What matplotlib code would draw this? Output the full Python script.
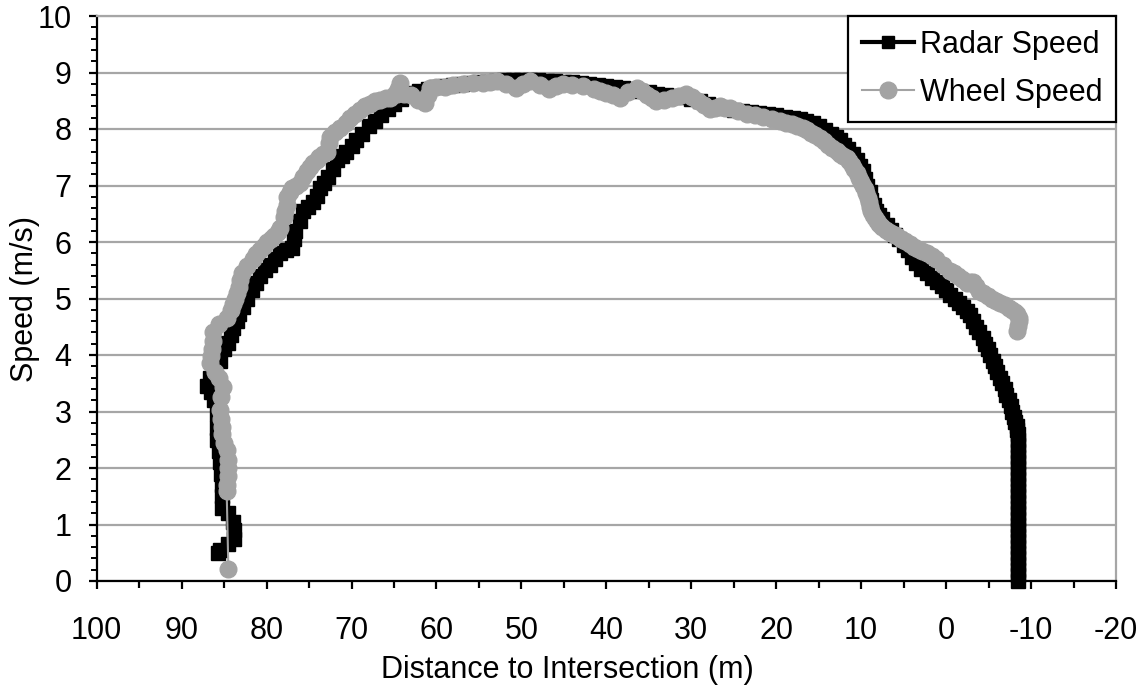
import matplotlib
matplotlib.use("Agg")
import matplotlib.pyplot as plt
from matplotlib.ticker import MultipleLocator
from matplotlib.lines import Line2D

# ---------------- data ----------------
radar_dist = [
    85.7, 85.5, 84.5, 83.8, 83.8, 84.0, 84.6, 85.2, 85.2, 85.3,
    85.4, 85.5, 85.6, 85.8, 85.8, 85.8, 86.2, 86.6, 87.0, 86.7,
    86.2, 85.5, 85.0, 84.6, 84.2, 83.9, 83.5, 83.2, 82.8, 82.3,
    81.7, 81.3, 80.8, 80.2, 79.6, 79.0, 78.4, 77.7, 77.0, 76.8,
    76.6, 76.1, 75.7, 75.1, 74.5, 74.1, 73.7, 73.2, 72.8, 72.2,
    71.7, 71.1, 70.6, 70.0, 69.5, 68.8, 68.0, 67.2, 66.5, 65.7,
    65.0, 64.2, 63.5, 62.7, 62.0, 61.0, 60.0, 59.0, 58.0, 57.0,
    56.0, 55.0, 54.0, 53.0, 52.0, 51.0, 50.0, 49.0, 48.0, 47.0,
    46.0, 45.0, 44.0, 43.0, 42.0, 41.0, 40.0, 39.0, 38.0, 37.0,
    36.0, 35.0, 34.0, 33.0, 32.0, 31.0, 30.0, 29.0, 28.0, 27.0,
    26.0, 25.0, 24.0, 23.0, 22.0, 21.0, 20.0, 19.0, 18.0, 17.2,
    16.5, 15.7, 15.0, 14.2, 13.5, 13.0, 12.5, 12.0, 11.5, 11.0,
    10.5, 10.1, 9.8, 9.5, 9.3, 9.0, 8.8, 8.5, 8.2, 7.9,
    7.5, 7.0, 6.5, 6.0, 5.5, 5.0, 4.5, 4.0, 3.5, 2.9,
    2.3, 1.7, 1.1, 0.5, 0.0, -0.5, -1.0, -1.5, -2.0, -2.4,
    -2.8, -3.2, -3.5, -3.9, -4.3, -4.6, -4.9, -5.2, -5.5, -5.8,
    -6.0, -6.3, -6.6, -6.9, -7.1, -7.4, -7.6, -7.8, -8.0, -8.15,
    -8.3, -8.4, -8.5,
    -8.5, -8.5, -8.5, -8.5, -8.5, -8.5, -8.5, -8.5, -8.5, -8.5,
    -8.5, -8.5, -8.5, -8.5, -8.5, -8.5, -8.5, -8.5, -8.5, -8.5,
    -8.5, -8.5, -8.5, -8.5, -8.5, -8.5,
]
radar_speed = [
    0.5, 0.55, 0.65, 0.75, 0.9, 1.05, 1.2, 1.3, 1.5, 1.7,
    1.9, 2.1, 2.3, 2.5, 2.7, 2.95, 3.2, 3.35, 3.45, 3.6,
    3.75, 3.9, 4.1, 4.22, 4.35, 4.48, 4.6, 4.72, 4.85, 5.0,
    5.15, 5.28, 5.4, 5.5, 5.6, 5.7, 5.8, 5.85, 5.9, 6.05,
    6.2, 6.38, 6.55, 6.62, 6.7, 6.82, 6.95, 7.05, 7.15, 7.3,
    7.45, 7.52, 7.6, 7.7, 7.8, 7.92, 8.05, 8.15, 8.25, 8.35,
    8.45, 8.53, 8.6, 8.64, 8.68, 8.71, 8.74, 8.76, 8.78, 8.8,
    8.82, 8.83, 8.84, 8.85, 8.86, 8.87, 8.87, 8.87, 8.86, 8.85,
    8.85, 8.84, 8.83, 8.82, 8.8, 8.78, 8.76, 8.74, 8.72, 8.7,
    8.67, 8.65, 8.62, 8.6, 8.58, 8.56, 8.53, 8.49, 8.45, 8.41,
    8.37, 8.34, 8.32, 8.3, 8.28, 8.26, 8.24, 8.22, 8.2, 8.17,
    8.14, 8.1, 8.05, 7.98, 7.92, 7.86, 7.8, 7.72, 7.65, 7.55,
    7.45, 7.35, 7.25, 7.12, 7.0, 6.88, 6.75, 6.65, 6.55, 6.47,
    6.4, 6.3, 6.22, 6.13, 6.05, 5.95, 5.85, 5.73, 5.62, 5.53,
    5.45, 5.37, 5.3, 5.22, 5.15, 5.07, 5.0, 4.92, 4.85, 4.78,
    4.7, 4.6, 4.5, 4.4, 4.3, 4.2, 4.1, 4.0, 3.9, 3.8,
    3.7, 3.6, 3.5, 3.4, 3.3, 3.2, 3.1, 3.0, 2.9, 2.82,
    2.75, 2.68, 2.6,
    2.5, 2.4, 2.3, 2.2, 2.1, 2.0, 1.9, 1.8, 1.7, 1.6,
    1.5, 1.4, 1.3, 1.2, 1.1, 1.0, 0.9, 0.8, 0.7, 0.6,
    0.5, 0.4, 0.3, 0.2, 0.1, 0.0,
]

wheel_dist = [
    84.5, 84.7, 84.7, 84.6, 84.5, 84.6, 84.7, 85.0, 85.3, 85.3,
    85.4, 85.5, 85.4, 85.1, 85.6, 86.1, 86.7, 86.6, 86.4, 86.3,
    86.3, 85.6, 84.7, 84.2, 83.9, 83.7, 83.5, 83.3, 83.1, 82.9,
    82.3, 81.6, 81.2, 80.8, 80.3, 79.9, 79.5, 79.1, 78.7, 78.4,
    78.0, 77.8, 77.6, 77.6, 77.3, 77.0, 76.5, 76.1, 75.7, 75.3,
    74.9, 74.5, 74.1, 73.8, 73.3, 72.9, 72.7, 72.5, 71.9, 71.3,
    70.7, 70.2, 69.6, 69.0, 68.4, 67.8, 67.2, 66.6, 66.0, 65.5,
    64.9, 64.3, 64.5, 64.7, 63.8, 63.0, 62.2, 61.4, 61.0, 60.8,
    60.0, 59.0, 58.0, 56.9, 55.7, 54.5, 53.7, 52.9, 51.8, 50.6,
    49.8, 49.0, 47.8, 46.7, 45.9, 45.1, 44.0, 42.8, 41.5, 40.8,
    40.0, 39.2, 38.4, 37.4, 36.4, 35.8, 35.2, 34.6, 34.1, 33.2,
    32.3, 31.5, 30.6, 29.9, 29.2, 28.5, 27.8, 27.2, 26.6, 26.0,
    25.5, 24.5, 23.5, 22.5, 21.5, 20.5, 19.6, 18.9, 18.2, 17.5,
    16.9, 16.4, 15.9, 15.4, 14.9, 14.4, 13.9, 13.4, 12.9, 12.5,
    12.1, 11.7, 11.4, 11.1, 10.8, 10.5, 10.2, 10.0, 9.8, 9.6,
    9.4, 9.25, 9.1, 8.95, 8.8, 8.6, 8.4, 8.15, 7.9, 7.5,
    7.1, 6.7, 6.3, 5.8, 5.3, 4.8, 4.3, 3.8, 3.3, 2.8,
    2.3, 1.7, 1.2, 0.4, -0.4, -0.9, -1.4, -1.9, -2.4, -2.8,
    -3.2, -3.5, -3.9, -4.4, -4.9, -5.4, -5.9, -6.4, -6.9, -7.4,
    -7.8, -8.1, -8.4, -8.6, -8.6, -8.5, -8.4,
]
wheel_speed = [
    0.22, 1.6, 1.7, 1.85, 2.0, 2.15, 2.31, 2.45, 2.6, 2.72,
    2.87, 3.02, 3.25, 3.43, 3.6, 3.7, 3.85, 3.98, 4.1, 4.25,
    4.4, 4.55, 4.65, 4.8, 4.9, 5.0, 5.1, 5.2, 5.33, 5.45,
    5.58, 5.7, 5.78, 5.85, 5.93, 6.0, 6.05, 6.1, 6.18, 6.25,
    6.45, 6.55, 6.65, 6.8, 6.88, 6.95, 7.0, 7.05, 7.15, 7.25,
    7.33, 7.4, 7.45, 7.5, 7.55, 7.6, 7.75, 7.85, 7.95, 8.02,
    8.1, 8.2, 8.27, 8.33, 8.4, 8.45, 8.49, 8.52, 8.54, 8.55,
    8.62, 8.82, 8.7, 8.62, 8.62, 8.6, 8.52, 8.46, 8.6, 8.73,
    8.74, 8.75, 8.78, 8.8, 8.81, 8.82, 8.84, 8.85, 8.8, 8.73,
    8.8, 8.85, 8.78, 8.71, 8.76, 8.8, 8.78, 8.76, 8.7, 8.67,
    8.64, 8.6, 8.55, 8.65, 8.73, 8.67, 8.6, 8.55, 8.5, 8.52,
    8.55, 8.58, 8.62, 8.56, 8.5, 8.43, 8.36, 8.38, 8.4, 8.38,
    8.37, 8.32, 8.27, 8.25, 8.22, 8.18, 8.14, 8.11, 8.08, 8.05,
    8.02, 7.98, 7.93, 7.89, 7.84, 7.78, 7.72, 7.66, 7.61, 7.56,
    7.52, 7.48, 7.44, 7.37, 7.3, 7.22, 7.14, 7.07, 7.0, 6.93,
    6.86, 6.78, 6.7, 6.62, 6.55, 6.48, 6.42, 6.37, 6.32, 6.27,
    6.22, 6.18, 6.15, 6.1, 6.05, 6.01, 5.97, 5.92, 5.88, 5.84,
    5.8, 5.75, 5.7, 5.6, 5.49, 5.45, 5.4, 5.34, 5.28, 5.3,
    5.3, 5.22, 5.14, 5.1, 5.05, 5.0, 4.96, 4.92, 4.88, 4.83,
    4.79, 4.76, 4.72, 4.66, 4.61, 4.52, 4.43,
]

series_labels = ["Radar Speed", "Wheel Speed"]
x_label = "Distance to Intersection (m)"
y_label = "Speed (m/s)"

# ---------------- styling ----------------
plt.rcParams['font.family'] = ['Liberation Sans', 'DejaVu Sans']
plt.rcParams['axes.unicode_minus'] = False
FS = 22
GRID = '#a6a6a6'
WHEEL = '#a3a3a3'

fig = plt.figure(figsize=(11.43, 6.85), dpi=100)
ax = fig.add_axes([96.7 / 1143, 1 - 581 / 685, (1116 - 96.7) / 1143, (581 - 16) / 685])

ax.plot(radar_dist, radar_speed, color='black', lw=2.5, marker='s', ms=9.5,
        mec='black', mfc='black', zorder=3, clip_on=False)
ax.plot(wheel_dist, wheel_speed, color=WHEEL, lw=1.5, marker='o', ms=12,
        mec=WHEEL, mfc=WHEEL, zorder=4)

ax.set_xlim(100, -20)
ax.set_ylim(0, 10)
ax.xaxis.set_major_locator(MultipleLocator(10))
ax.xaxis.set_minor_locator(MultipleLocator(5))
ax.yaxis.set_major_locator(MultipleLocator(1))
ax.yaxis.set_minor_locator(MultipleLocator(0.2))

ax.yaxis.grid(True, which='major', color=GRID, lw=1.6, zorder=0)
ax.set_axisbelow(True)

for s in ['left', 'bottom']:
    ax.spines[s].set_color('black')
    ax.spines[s].set_linewidth(1.6)
for s in ['top', 'right']:
    ax.spines[s].set_color(GRID)
    ax.spines[s].set_linewidth(1.6)

ax.tick_params(axis='x', which='major', direction='out', length=6, width=1.6,
               pad=19, labelsize=FS)
ax.tick_params(axis='x', which='minor', direction='out', length=5, width=1.6)
ax.tick_params(axis='y', which='major', direction='out', length=6, width=1.6,
               pad=12, labelsize=FS)
ax.tick_params(axis='y', which='minor', direction='out', length=4, width=1.4)
ax.tick_params(top=False, right=False, which='both')

ax.set_xlabel(x_label, fontsize=FS)
ax.set_ylabel(y_label, fontsize=FS)
ax.xaxis.set_label_coords((567 - 96.7) / (1116 - 96.7), -(655 - 581) / 565)
ax.yaxis.set_label_coords((40 - 96.7) / (1116 - 96.7), 0.5)

handles = [
    Line2D([], [], color='black', lw=3, marker='s', ms=8),
    Line2D([], [], color=WHEEL, lw=1.5, marker='o', ms=12),
]
leg = ax.legend(handles, series_labels, loc='upper right', fontsize=FS,
                frameon=True, fancybox=False, framealpha=1, edgecolor='black',
                borderaxespad=0, handlelength=1.7, handletextpad=0.2,
                labelspacing=0.6, borderpad=0.45)
leg.get_frame().set_linewidth(1.6)
leg.set_zorder(10)

fig.savefig("out.png", dpi=100)
